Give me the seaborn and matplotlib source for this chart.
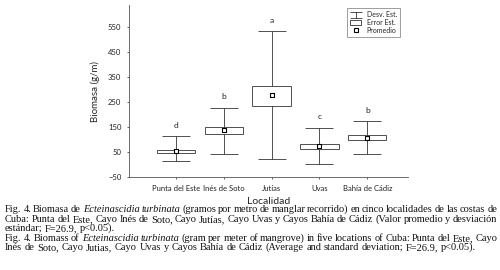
import matplotlib
matplotlib.use("Agg")
import matplotlib.pyplot as plt
from matplotlib.lines import Line2D
from matplotlib.path import Path
import seaborn as sns
import pandas as pd

# Data (g/m)
localidades = ["Punta del Este", "Inés de Soto", "Jutías", "Uvas", "Bahía de Cádiz"]
promedio = [54, 137, 277, 74, 107]
err_bajo = [47, 121, 235, 63, 97]     # Error Est. lower
err_alto = [59, 150, 315, 83, 120]    # Error Est. upper
desv_bajo = [14, 41, 22, 1, 43]       # Desv. Est. lower
desv_alto = [113, 228, 533, 147, 173]  # Desv. Est. upper
letras = ["d", "b", "a", "c", "b"]
y_ticks = [-50, 50, 150, 250, 350, 450, 550]

caption = [
    ([("Fig. 4. Biomasa de ", "normal"), ("Ecteinascidia turbinata", "italic"),
      (" (gramos por metro de manglar recorrido) en cinco localidades de las costas de", "normal")], True),
    ([("Cuba: Punta del Este, Cayo Inés de Soto, Cayo Jutías, Cayo Uvas y Cayos Bahía de Cádiz (Valor promedio y desviación", "normal")], True),
    ([("estándar; F=26.9, p<0.05).", "normal")], False),
    ([("Fig. 4. Biomass of ", "normal"), ("Ecteinascidia turbinata", "italic"),
      (" (gram per meter of mangrove) in five locations of Cuba: Punta del Este, Cayo", "normal")], True),
    ([("Inés de Soto, Cayo Jutias, Cayo Uvas y Cayos Bahía de Cádiz (Average and standard deviation; F=26.9, p<0.05).", "normal")], False),
]

df = pd.DataFrame({"loc": localidades, "mean": promedio,
                   "lo": err_bajo, "hi": err_alto,
                   "dlo": desv_bajo, "dhi": desv_alto})

sns.set_style("ticks")
plt.rcParams["font.family"] = ["Lato", "DejaVu Sans"]
LC = "#333333"

fig = plt.figure(figsize=(5, 2.7), dpi=100)
ax = fig.add_axes([0.258, 0.344, 0.558, 0.637])
x = range(len(df))

# whiskers (standard deviation)
yerr = [df["mean"] - df["dlo"], df["dhi"] - df["mean"]]
ax.errorbar(x, df["mean"], yerr=yerr, fmt="none", ecolor=LC,
            elinewidth=0.6, capsize=10, capthick=0.6, zorder=1)
# boxes (standard error)
bars = ax.bar(x, df["hi"] - df["lo"], bottom=df["lo"], width=0.8,
              color="white", edgecolor=LC, linewidth=0.6, zorder=2)
# means
sns.scatterplot(x=list(x), y=df["mean"], marker="s", s=9, color="white",
                edgecolor="black", linewidth=0.8, zorder=3, ax=ax)

for i, (top, l) in enumerate(zip(df["dhi"], letras)):
    ax.text(i, top + 45, l, ha="center", va="center", fontsize=6, color="#222222")

ax.set_xlim(-0.98, 4.85)
ax.set_ylim(-50, 638)
ax.set_yticks(y_ticks)
ax.set_xticks(list(x))
ax.set_xticklabels(localidades)
ax.tick_params(axis="both", labelsize=5.5, length=1.5, width=0.5, pad=4,
               colors="#222222")
for sp in ["left", "bottom"]:
    ax.spines[sp].set_linewidth(0.6)
    ax.spines[sp].set_color("#555555")
sns.despine(ax=ax)
ax.set_ylabel("Biomasa (g/m)", fontsize=7, labelpad=6)
ax.set_xlabel("Localidad", fontsize=7.5, labelpad=4)

# legend with an I-beam symbol for the whiskers
ibeam = Path([(-1, 0.6), (1, 0.6), (0, 0.6), (0, -0.6), (-1, -0.6), (1, -0.6)],
             [Path.MOVETO, Path.LINETO, Path.MOVETO, Path.LINETO, Path.MOVETO, Path.LINETO])
h_desv = Line2D([], [], marker=ibeam, linestyle="none", markersize=8,
                markeredgewidth=0.6, color=LC, markerfacecolor="none")
h_mean = Line2D([], [], marker="s", linestyle="none", markersize=3,
                markerfacecolor="white", markeredgecolor="black", markeredgewidth=0.8)
leg = ax.legend(handles=[h_desv, bars, h_mean],
                labels=["Desv. Est.", "Error Est.", "Promedio"],
                loc="upper left", bbox_to_anchor=(347 / 500, 1 - 8 / 270),
                bbox_transform=fig.transFigure, fontsize=5, frameon=True,
                fancybox=False, edgecolor="#777777", framealpha=1,
                handlelength=1.6, handleheight=0.7, borderpad=0.45,
                labelspacing=0.12, handletextpad=0.8, borderaxespad=0)
leg.get_frame().set_linewidth(0.5)

# justified caption in serif
fig.canvas.draw()
renderer = fig.canvas.get_renderer()
W = 500
size = 7.5
space = size * 0.25 * 100 / 72
baselines = [212, 222, 231, 241, 250]
for (segments, justify), yb in zip(caption, baselines):
    words = []
    for text, st in segments:
        for w in text.split(" "):
            if w:
                words.append((w, st))
    widths = []
    for w, st in words:
        t = fig.text(0, 0, w, fontsize=size, family="Liberation Serif", style=st)
        widths.append(t.get_window_extent(renderer).width)
        t.remove()
    x0, x1 = 5, 497
    gap = (x1 - x0 - sum(widths)) / (len(words) - 1) if justify else space
    xp = x0
    for (w, st), wd in zip(words, widths):
        fig.text(xp / W, 1 - yb / 270, w, fontsize=size, family="Liberation Serif",
                 style=st, va="baseline", color="#111111")
        xp += wd + gap

fig.savefig("out.png", dpi=100)
